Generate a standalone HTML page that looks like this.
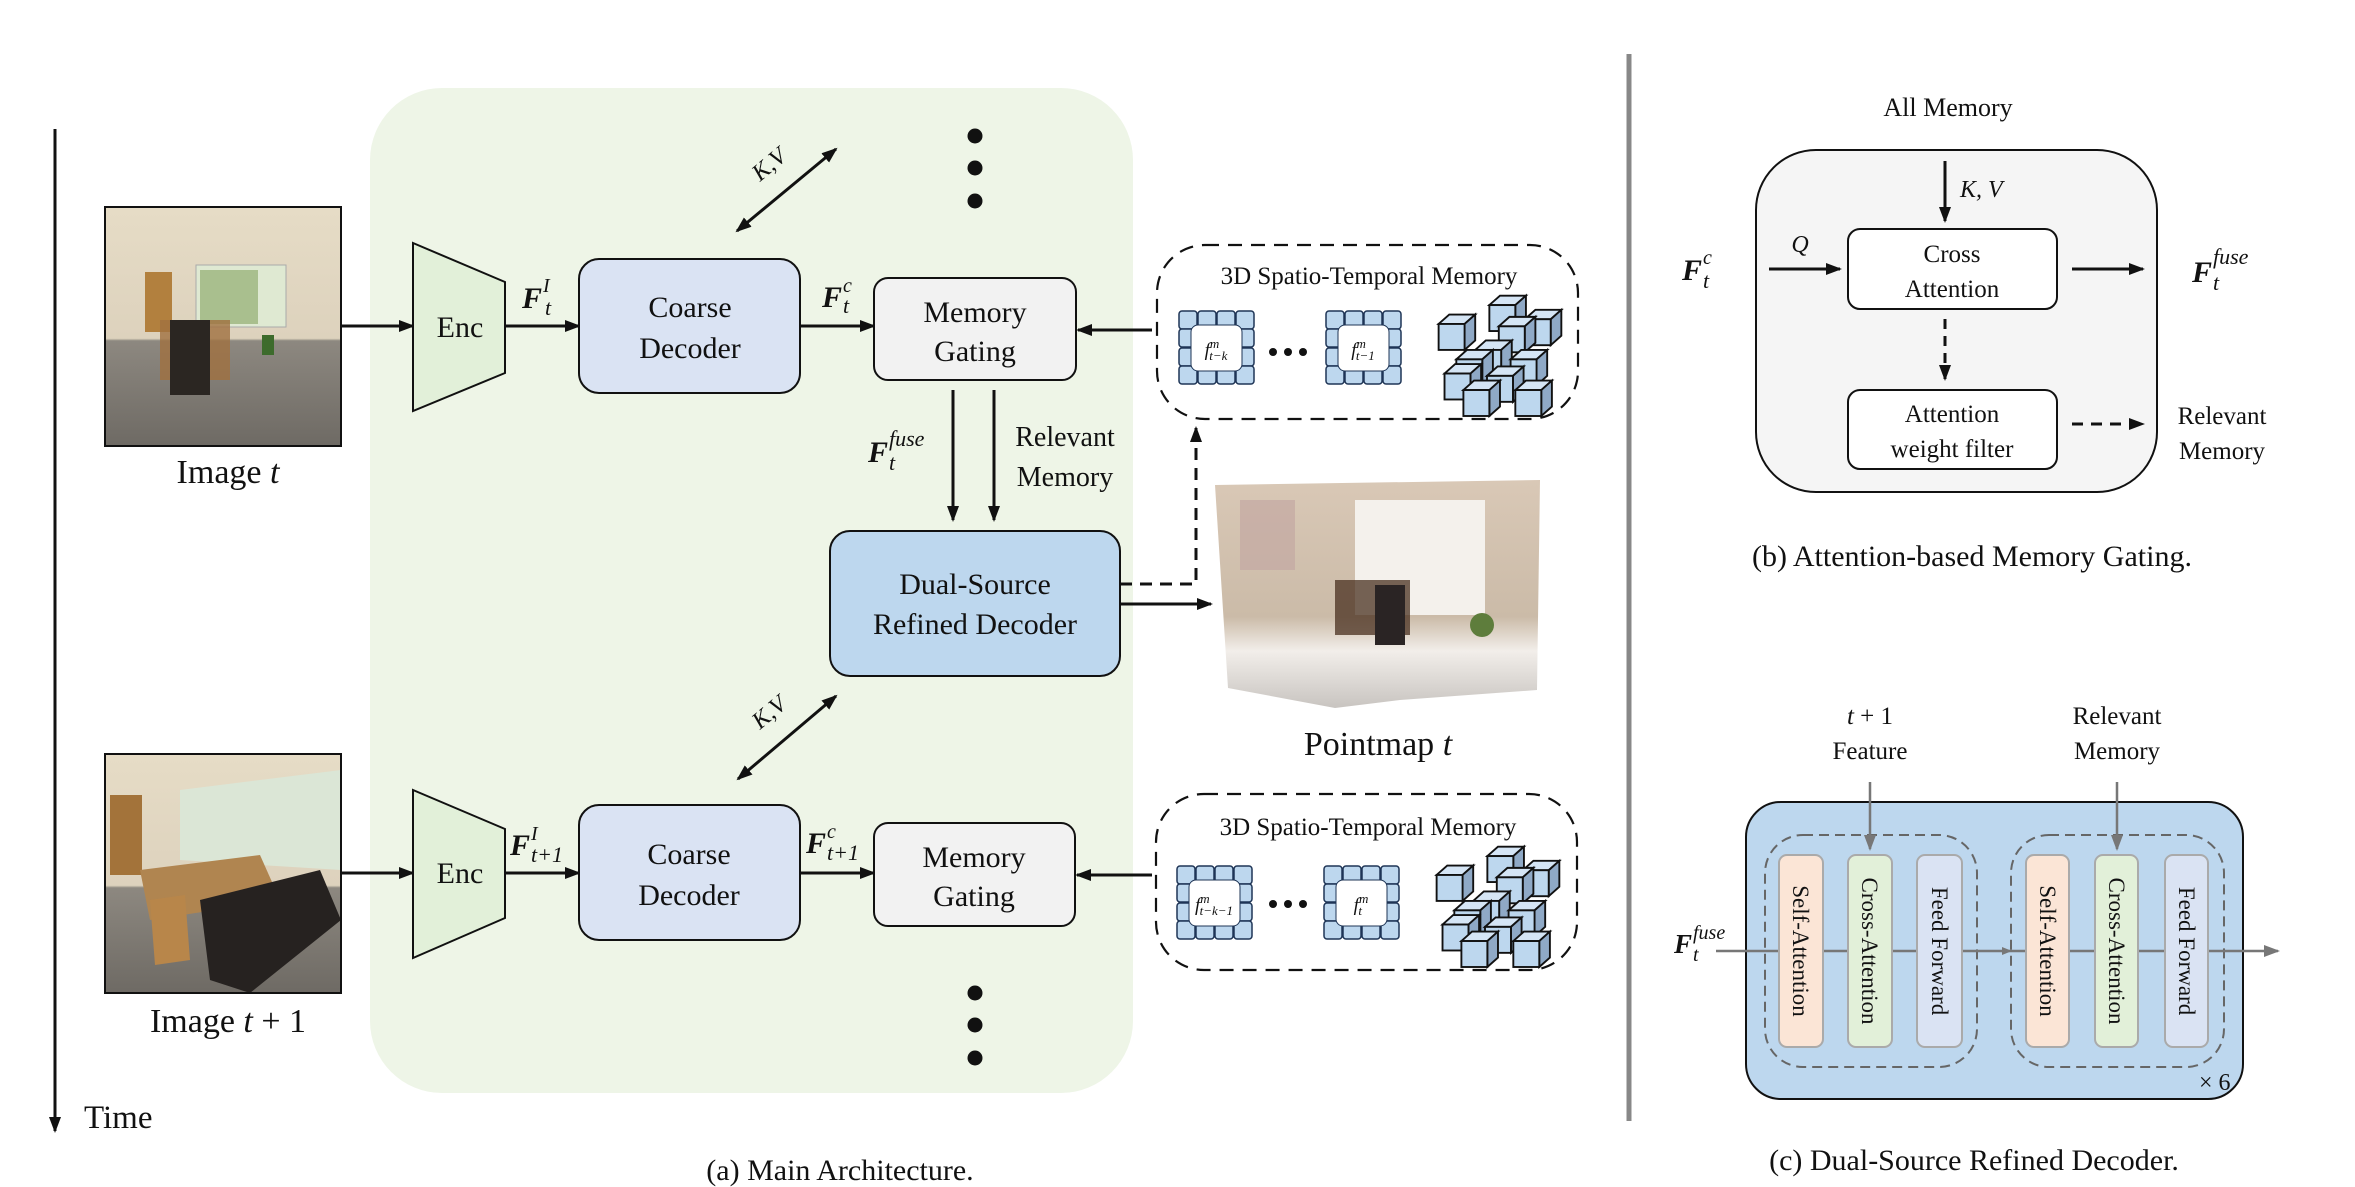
<!DOCTYPE html>
<html><head><meta charset="utf-8"><style>
html,body{margin:0;padding:0;background:#fff;}
svg{display:block;}
text{font-family:"Liberation Serif",serif;fill:#111;}
</style></head><body>
<svg width="2355" height="1187" viewBox="0 0 2355 1187" xmlns="http://www.w3.org/2000/svg">
<defs>
<marker id="ah" markerWidth="16" markerHeight="12" refX="14" refY="6" orient="auto" markerUnits="userSpaceOnUse"><path d="M0,0 L16,6 L0,12 z" fill="#111"/></marker>
<marker id="ahs" markerWidth="16" markerHeight="12" refX="2" refY="6" orient="auto" markerUnits="userSpaceOnUse"><path d="M16,0 L0,6 L16,12 z" fill="#111"/></marker>
<marker id="ahg" markerWidth="16" markerHeight="12" refX="14" refY="6" orient="auto" markerUnits="userSpaceOnUse"><path d="M0,0 L16,6 L0,12 z" fill="#777"/></marker>
<marker id="ahg2" markerWidth="10" markerHeight="8" refX="9" refY="4" orient="auto" markerUnits="userSpaceOnUse"><path d="M0,0 L10,4 L0,8 z" fill="#777"/></marker>
<g id="grid">
 <rect x="0" y="0" width="18" height="18" rx="3" fill="#bdd7ee" stroke="#1f3556" stroke-width="1.5"/>
 <rect x="19" y="0" width="18" height="18" rx="3" fill="#bdd7ee" stroke="#1f3556" stroke-width="1.5"/>
 <rect x="38" y="0" width="18" height="18" rx="3" fill="#bdd7ee" stroke="#1f3556" stroke-width="1.5"/>
 <rect x="57" y="0" width="18" height="18" rx="3" fill="#bdd7ee" stroke="#1f3556" stroke-width="1.5"/>
 <rect x="0" y="18" width="18" height="18" rx="3" fill="#bdd7ee" stroke="#1f3556" stroke-width="1.5"/>
 <rect x="57" y="18" width="18" height="18" rx="3" fill="#bdd7ee" stroke="#1f3556" stroke-width="1.5"/>
 <rect x="0" y="37" width="18" height="18" rx="3" fill="#bdd7ee" stroke="#1f3556" stroke-width="1.5"/>
 <rect x="57" y="37" width="18" height="18" rx="3" fill="#bdd7ee" stroke="#1f3556" stroke-width="1.5"/>
 <rect x="0" y="55" width="18" height="18" rx="3" fill="#bdd7ee" stroke="#1f3556" stroke-width="1.5"/>
 <rect x="19" y="55" width="18" height="18" rx="3" fill="#bdd7ee" stroke="#1f3556" stroke-width="1.5"/>
 <rect x="38" y="55" width="18" height="18" rx="3" fill="#bdd7ee" stroke="#1f3556" stroke-width="1.5"/>
 <rect x="57" y="55" width="18" height="18" rx="3" fill="#bdd7ee" stroke="#1f3556" stroke-width="1.5"/>
 <rect x="12" y="14" width="51" height="46" rx="7" fill="#fff" stroke="#1f3556" stroke-width="1"/>
</g>
<g id="cube">
 <polygon points="0,0 9,-8 31,-8 22,0" fill="#d5e5f5" stroke="#111" stroke-width="1.6"/>
 <polygon points="22,0 31,-8 31,14 22,22" fill="#8fa9c6" stroke="#111" stroke-width="1.6"/>
 <rect x="0" y="0" width="22" height="22" fill="#bdd7ee" stroke="#111" stroke-width="1.6"/>
</g>
<g id="cubes">
 <use href="#cube" x="52" y="6"/>
 <use href="#cube" x="9" y="22"/>
 <use href="#cube" x="82" y="18"/>
 <use href="#cube" x="60" y="24"/>
 <use href="#cube" x="40" y="44"/>
 <use href="#cube" x="24" y="52"/>
 <use href="#cube" x="70" y="52"/>
 <use href="#cube" x="14" y="64"/>
 <use href="#cube" x="50" y="66"/>
 <use href="#cube" x="30" y="78"/>
 <use href="#cube" x="74" y="78"/>
</g>
<linearGradient id="wall" x1="0" y1="0" x2="0" y2="1"><stop offset="0" stop-color="#e6dcc6"/><stop offset="0.55" stop-color="#ddd2bd"/><stop offset="0.56" stop-color="#8d8880"/><stop offset="1" stop-color="#6e6a64"/></linearGradient>
<linearGradient id="pm" x1="0" y1="0" x2="0" y2="1"><stop offset="0" stop-color="#d9c8b6"/><stop offset="0.6" stop-color="#cbbba8"/><stop offset="0.75" stop-color="#f2eeea"/><stop offset="1" stop-color="#c8c4c0"/></linearGradient>
</defs>

<line x1="55" y1="129" x2="55" y2="1131" stroke="#111" stroke-width="3" marker-end="url(#ah)"/>
<text x="84" y="1128" font-size="33">Time</text>

<rect x="370" y="88" width="763" height="1005" rx="72" fill="#eef5e7"/>

<g>
 <rect x="105" y="207" width="236" height="239" fill="url(#wall)" stroke="#111" stroke-width="2"/>
 <rect x="196" y="265" width="90" height="62" fill="#dfe9d2" stroke="#aaa"/>
 <rect x="200" y="270" width="58" height="54" fill="#a9bf8e"/>
 <rect x="145" y="272" width="27" height="60" fill="#b2803e"/>
 <rect x="160" y="320" width="70" height="60" fill="#a07040" opacity="0.8"/>
 <rect x="170" y="320" width="40" height="75" fill="#2b2622"/>
 <rect x="262" y="335" width="12" height="20" fill="#3d6b2c"/>
 <rect x="105" y="207" width="236" height="239" fill="none" stroke="#111" stroke-width="2"/>
</g>
<g>
 <rect x="105" y="754" width="236" height="239" fill="url(#wall)" stroke="#111" stroke-width="2"/>
 <polygon points="180,790 341,770 341,870 180,860" fill="#dbe6d6"/>
 <rect x="110" y="795" width="32" height="80" fill="#a3733a"/>
 <polygon points="140,870 260,855 280,900 150,920" fill="#b08550"/>
 <polygon points="200,900 320,870 341,920 250,993 210,980" fill="#262220"/>
 <polygon points="150,900 185,895 190,960 155,965" fill="#b8864a"/>
 <rect x="105" y="754" width="236" height="239" fill="none" stroke="#111" stroke-width="2"/>
</g>
<text x="228" y="483" font-size="34" text-anchor="middle">Image <tspan font-style="italic">t</tspan></text>
<text x="228" y="1032" font-size="34" text-anchor="middle">Image <tspan font-style="italic">t</tspan> + 1</text>

<line x1="341" y1="326" x2="413" y2="326" stroke="#111" stroke-width="3" marker-end="url(#ah)"/>
<line x1="341" y1="873" x2="413" y2="873" stroke="#111" stroke-width="3" marker-end="url(#ah)"/>

<polygon points="413,243 505,282 505,373 413,411" fill="#e2f0d9" stroke="#111" stroke-width="2"/>
<text x="460" y="337" font-size="30" text-anchor="middle">Enc</text>
<polygon points="413,790 505,829 505,918 413,958" fill="#e2f0d9" stroke="#111" stroke-width="2"/>
<text x="460" y="883" font-size="30" text-anchor="middle">Enc</text>

<line x1="505" y1="326" x2="579" y2="326" stroke="#111" stroke-width="3" marker-end="url(#ah)"/>
<line x1="505" y1="873" x2="579" y2="873" stroke="#111" stroke-width="3" marker-end="url(#ah)"/>
<text x="522" y="308" font-size="30" font-weight="bold" font-style="italic">F</text>
<text x="543" y="292" font-size="20" font-style="italic">I</text>
<text x="545" y="315" font-size="22" font-style="italic">t</text>
<text x="510" y="855" font-size="30" font-weight="bold" font-style="italic">F</text>
<text x="531" y="840" font-size="20" font-style="italic">I</text>
<text x="531" y="862" font-size="22" font-style="italic">t+1</text>

<rect x="579" y="259" width="221" height="134" rx="20" fill="#dae3f3" stroke="#111" stroke-width="2"/>
<text x="690" y="317" font-size="30" text-anchor="middle">Coarse</text>
<text x="690" y="358" font-size="30" text-anchor="middle">Decoder</text>
<rect x="579" y="805" width="221" height="135" rx="20" fill="#dae3f3" stroke="#111" stroke-width="2"/>
<text x="689" y="864" font-size="30" text-anchor="middle">Coarse</text>
<text x="689" y="905" font-size="30" text-anchor="middle">Decoder</text>

<line x1="800" y1="326" x2="874" y2="326" stroke="#111" stroke-width="3" marker-end="url(#ah)"/>
<line x1="800" y1="873" x2="874" y2="873" stroke="#111" stroke-width="3" marker-end="url(#ah)"/>
<text x="822" y="307" font-size="30" font-weight="bold" font-style="italic">F</text>
<text x="843" y="292" font-size="20" font-style="italic">c</text>
<text x="843" y="313" font-size="22" font-style="italic">t</text>
<text x="806" y="853" font-size="30" font-weight="bold" font-style="italic">F</text>
<text x="827" y="838" font-size="20" font-style="italic">c</text>
<text x="827" y="860" font-size="22" font-style="italic">t+1</text>

<rect x="874" y="278" width="202" height="102" rx="14" fill="#f2f2f2" stroke="#111" stroke-width="2"/>
<text x="975" y="322" font-size="30" text-anchor="middle">Memory</text>
<text x="975" y="361" font-size="30" text-anchor="middle">Gating</text>
<rect x="874" y="823" width="201" height="103" rx="14" fill="#f2f2f2" stroke="#111" stroke-width="2"/>
<text x="974" y="867" font-size="30" text-anchor="middle">Memory</text>
<text x="974" y="906" font-size="30" text-anchor="middle">Gating</text>

<line x1="1152" y1="330" x2="1078" y2="330" stroke="#111" stroke-width="3" marker-end="url(#ah)"/>
<line x1="1152" y1="875" x2="1077" y2="875" stroke="#111" stroke-width="3" marker-end="url(#ah)"/>

<line x1="737" y1="231" x2="836" y2="149" stroke="#111" stroke-width="3" marker-end="url(#ah)" marker-start="url(#ahs)"/>
<text x="0" y="0" font-size="24" font-style="italic" transform="translate(760,182) rotate(-40)">K,V</text>
<line x1="738" y1="779" x2="836" y2="696" stroke="#111" stroke-width="3" marker-end="url(#ah)" marker-start="url(#ahs)"/>
<text x="0" y="0" font-size="24" font-style="italic" transform="translate(760,730) rotate(-40)">K,V</text>

<circle cx="975" cy="136" r="7.5" fill="#111"/><circle cx="975" cy="168" r="7.5" fill="#111"/><circle cx="975" cy="201" r="7.5" fill="#111"/>
<circle cx="975" cy="993" r="7.5" fill="#111"/><circle cx="975" cy="1025" r="7.5" fill="#111"/><circle cx="975" cy="1058" r="7.5" fill="#111"/>

<line x1="953" y1="390" x2="953" y2="520" stroke="#111" stroke-width="3" marker-end="url(#ah)"/>
<line x1="994" y1="390" x2="994" y2="520" stroke="#111" stroke-width="3" marker-end="url(#ah)"/>
<text x="868" y="462" font-size="30" font-weight="bold" font-style="italic">F</text>
<text x="889" y="446" font-size="22" font-style="italic">fuse</text>
<text x="889" y="470" font-size="22" font-style="italic">t</text>
<text x="1065" y="446" font-size="28" text-anchor="middle">Relevant</text>
<text x="1065" y="486" font-size="28" text-anchor="middle">Memory</text>

<rect x="830" y="531" width="290" height="145" rx="20" fill="#bdd7ee" stroke="#111" stroke-width="2"/>
<text x="975" y="594" font-size="30" text-anchor="middle">Dual-Source</text>
<text x="975" y="634" font-size="30" text-anchor="middle">Refined Decoder</text>

<polyline points="1120,584 1196,584 1196,428" fill="none" stroke="#111" stroke-width="3" stroke-dasharray="12,8" marker-end="url(#ah)"/>
<line x1="1120" y1="604" x2="1211" y2="604" stroke="#111" stroke-width="3" marker-end="url(#ah)"/>

<polygon points="1215,485 1540,480 1537,690 1400,700 1335,708 1228,688" fill="url(#pm)"/>
<rect x="1240" y="500" width="55" height="70" fill="#c3a8a2" opacity="0.7"/>
<rect x="1355" y="500" width="130" height="115" fill="#f4f1ec"/>
<rect x="1335" y="580" width="75" height="55" fill="#4a3020" opacity="0.75"/>
<rect x="1375" y="585" width="30" height="60" fill="#2a2424"/>
<circle cx="1482" cy="625" r="12" fill="#5e7d3c"/>
<text x="1378" y="755" font-size="34" text-anchor="middle">Pointmap <tspan font-style="italic">t</tspan></text>

<rect x="1157" y="245" width="421" height="174" rx="48" fill="#fff" stroke="#111" stroke-width="2.2" stroke-dasharray="14,9"/>
<text x="1369" y="284" font-size="25" text-anchor="middle">3D Spatio-Temporal Memory</text>
<use href="#grid" x="1179" y="311"/>
<text x="1216" y="356" font-size="19" font-style="italic" text-anchor="middle">f<tspan font-size="13" dy="-8">m</tspan><tspan font-size="13" dx="-10" dy="12">t−k</tspan></text>
<circle cx="1273" cy="352" r="4" fill="#111"/><circle cx="1288" cy="352" r="4" fill="#111"/><circle cx="1303" cy="352" r="4" fill="#111"/>
<use href="#grid" x="1326" y="311"/>
<text x="1363" y="356" font-size="19" font-style="italic" text-anchor="middle">f<tspan font-size="13" dy="-8">m</tspan><tspan font-size="13" dx="-10" dy="12">t−1</tspan></text>
<g transform="translate(1428,298) scale(1.18)"><use href="#cubes"/></g>

<rect x="1156" y="794" width="421" height="176" rx="48" fill="#fff" stroke="#111" stroke-width="2.2" stroke-dasharray="14,9"/>
<text x="1368" y="835" font-size="25" text-anchor="middle">3D Spatio-Temporal Memory</text>
<use href="#grid" x="1177" y="866"/>
<text x="1214" y="911" font-size="19" font-style="italic" text-anchor="middle">f<tspan font-size="13" dy="-8">m</tspan><tspan font-size="13" dx="-10" dy="12">t−k−1</tspan></text>
<circle cx="1273" cy="904" r="4" fill="#111"/><circle cx="1288" cy="904" r="4" fill="#111"/><circle cx="1303" cy="904" r="4" fill="#111"/>
<use href="#grid" x="1324" y="866"/>
<text x="1361" y="911" font-size="19" font-style="italic" text-anchor="middle">f<tspan font-size="13" dy="-8">m</tspan><tspan font-size="13" dx="-10" dy="12">t</tspan></text>
<g transform="translate(1426,849) scale(1.18)"><use href="#cubes"/></g>

<text x="840" y="1180" font-size="30" text-anchor="middle">(a) Main Architecture.</text>

<line x1="1629" y1="54" x2="1629" y2="1121" stroke="#888" stroke-width="5"/>

<text x="1948" y="116" font-size="26" text-anchor="middle">All Memory</text>
<rect x="1756" y="150" width="401" height="342" rx="60" fill="#f5f5f5" stroke="#111" stroke-width="2"/>
<line x1="1945" y1="161" x2="1945" y2="221" stroke="#111" stroke-width="3" marker-end="url(#ah)"/>
<text x="1960" y="197" font-size="24" font-style="italic">K, V</text>
<rect x="1848" y="229" width="209" height="80" rx="12" fill="#fff" stroke="#111" stroke-width="2"/>
<text x="1952" y="262" font-size="25" text-anchor="middle">Cross</text>
<text x="1952" y="297" font-size="25" text-anchor="middle">Attention</text>
<line x1="1945" y1="319" x2="1945" y2="379" stroke="#111" stroke-width="3" stroke-dasharray="10,7" marker-end="url(#ah)"/>
<rect x="1848" y="390" width="209" height="79" rx="12" fill="#fff" stroke="#111" stroke-width="2"/>
<text x="1952" y="422" font-size="25" text-anchor="middle">Attention</text>
<text x="1952" y="457" font-size="25" text-anchor="middle">weight filter</text>
<line x1="1769" y1="269" x2="1840" y2="269" stroke="#111" stroke-width="3" marker-end="url(#ah)"/>
<text x="1800" y="252" font-size="24" font-style="italic" text-anchor="middle">Q</text>
<text x="1682" y="280" font-size="30" font-weight="bold" font-style="italic">F</text>
<text x="1703" y="264" font-size="20" font-style="italic">c</text>
<text x="1703" y="288" font-size="22" font-style="italic">t</text>
<line x1="2072" y1="269" x2="2143" y2="269" stroke="#111" stroke-width="3" marker-end="url(#ah)"/>
<text x="2192" y="282" font-size="30" font-weight="bold" font-style="italic">F</text>
<text x="2213" y="264" font-size="22" font-style="italic">fuse</text>
<text x="2213" y="290" font-size="22" font-style="italic">t</text>
<line x1="2072" y1="424" x2="2143" y2="424" stroke="#111" stroke-width="3" stroke-dasharray="11,8" marker-end="url(#ah)"/>
<text x="2222" y="424" font-size="25" text-anchor="middle">Relevant</text>
<text x="2222" y="459" font-size="25" text-anchor="middle">Memory</text>
<text x="1972" y="566" font-size="30" text-anchor="middle">(b) Attention-based Memory Gating.</text>

<text x="1870" y="724" font-size="25" text-anchor="middle"><tspan font-style="italic">t</tspan> + 1</text>
<text x="1870" y="759" font-size="25" text-anchor="middle">Feature</text>
<text x="2117" y="724" font-size="25" text-anchor="middle">Relevant</text>
<text x="2117" y="759" font-size="25" text-anchor="middle">Memory</text>
<rect x="1746" y="802" width="497" height="297" rx="35" fill="#bdd7ee" stroke="#111" stroke-width="2"/>
<rect x="1765" y="835" width="212" height="232" rx="38" fill="none" stroke="#666" stroke-width="2" stroke-dasharray="10,6"/>
<rect x="2011" y="835" width="213" height="232" rx="38" fill="none" stroke="#666" stroke-width="2" stroke-dasharray="10,6"/>
<line x1="1716" y1="951" x2="2278" y2="951" stroke="#777" stroke-width="2.5" marker-end="url(#ahg)"/>
<line x1="1977" y1="951" x2="2011" y2="951" stroke="#777" stroke-width="2" marker-end="url(#ahg2)"/>
<rect x="1779" y="855" width="44" height="192" rx="8" fill="#fbe5d6" stroke="#aaa" stroke-width="2"/>
<rect x="1848" y="855" width="44" height="192" rx="8" fill="#e2f0d9" stroke="#aaa" stroke-width="2"/>
<rect x="1917" y="855" width="45" height="192" rx="8" fill="#dae3f3" stroke="#aaa" stroke-width="2"/>
<rect x="2026" y="855" width="43" height="192" rx="8" fill="#fbe5d6" stroke="#aaa" stroke-width="2"/>
<rect x="2095" y="855" width="43" height="192" rx="8" fill="#e2f0d9" stroke="#aaa" stroke-width="2"/>
<rect x="2165" y="855" width="43" height="192" rx="8" fill="#dae3f3" stroke="#aaa" stroke-width="2"/>
<text font-size="23" text-anchor="middle" transform="translate(1793,951) rotate(90)">Self-Attention</text>
<text font-size="23" text-anchor="middle" transform="translate(1862,951) rotate(90)">Cross-Attention</text>
<text font-size="23" text-anchor="middle" transform="translate(1932,951) rotate(90)">Feed Forward</text>
<text font-size="23" text-anchor="middle" transform="translate(2040,951) rotate(90)">Self-Attention</text>
<text font-size="23" text-anchor="middle" transform="translate(2109,951) rotate(90)">Cross-Attention</text>
<text font-size="23" text-anchor="middle" transform="translate(2179,951) rotate(90)">Feed Forward</text>
<line x1="1870" y1="782" x2="1870" y2="849" stroke="#777" stroke-width="2.5" marker-end="url(#ahg)"/>
<line x1="2117" y1="782" x2="2117" y2="849" stroke="#777" stroke-width="2.5" marker-end="url(#ahg)"/>
<text x="1674" y="953" font-size="27" font-weight="bold" font-style="italic">F</text>
<text x="1693" y="939" font-size="20" font-style="italic">fuse</text>
<text x="1693" y="961" font-size="20" font-style="italic">t</text>
<text x="2199" y="1090" font-size="24">× 6</text>
<text x="1974" y="1170" font-size="30" text-anchor="middle">(c) Dual-Source Refined Decoder.</text>
</svg>
</body></html>
